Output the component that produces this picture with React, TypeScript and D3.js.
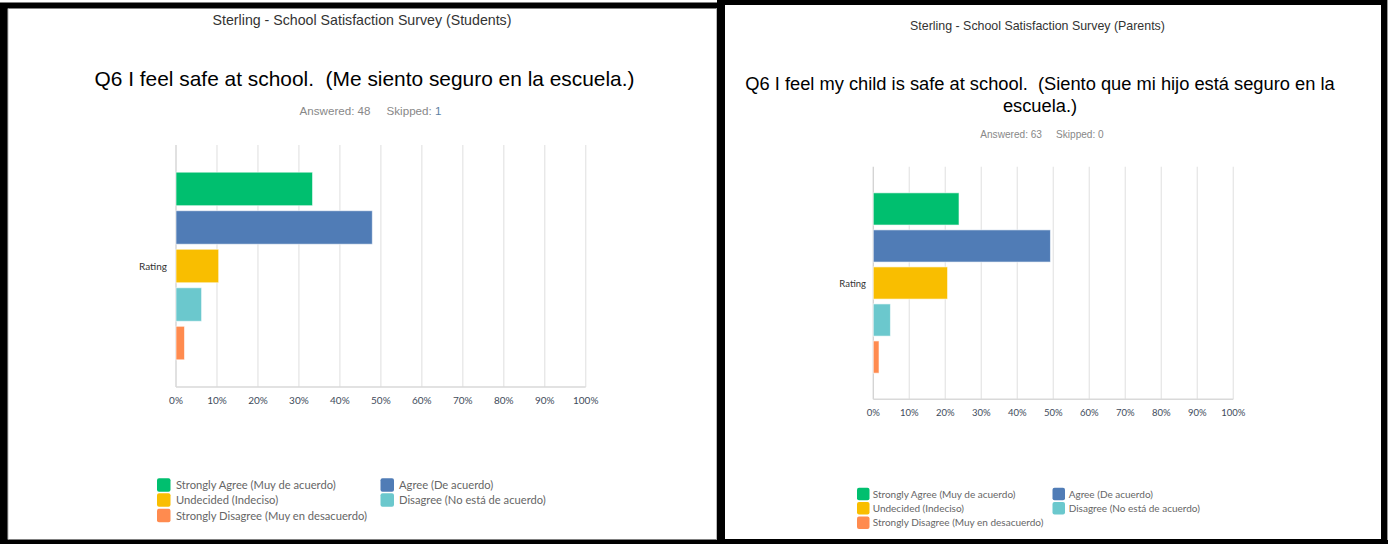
import React from "react";
import * as d3 from "d3";

// ---------- data ----------
const categories = ["Rating"];
const seriesNames = [
  "Strongly Agree (Muy de acuerdo)",
  "Agree (De acuerdo)",
  "Undecided (Indeciso)",
  "Disagree (No está de acuerdo)",
  "Strongly Disagree (Muy en desacuerdo)",
];
const seriesColors = ["#00BF6F", "#507CB6", "#F9BE00", "#6BC8CD", "#FF8B4F"];
const studentsValues = [33.33, 47.92, 10.42, 6.25, 2.08];
const parentsValues = [23.81, 49.21, 20.63, 4.76, 1.59];
const tickValues = [0, 10, 20, 30, 40, 50, 60, 70, 80, 90, 100];
const tickLabels = ["0%", "10%", "20%", "30%", "40%", "50%", "60%", "70%", "80%", "90%", "100%"];

const surveyTitles = [
  "Sterling - School Satisfaction Survey (Students)",
  "Sterling - School Satisfaction Survey (Parents)",
];
const questionLines = [
  ["Q6 I feel safe at school.  (Me siento seguro en la escuela.)"],
  ["Q6 I feel my child is safe at school.  (Siento que mi hijo está seguro en la", "escuela.)"],
];
const answeredTexts = ["Answered: 48", "Answered: 63"];
const skippedLabels = ["Skipped: ", "Skipped: "];
const skippedCounts = ["1", "0"];

const CHART_FONT = "Lato, 'Noto Sans', sans-serif";
const TITLE_FONT = "'Liberation Sans', Arial, sans-serif";

type Layout = {
  titleX: number; titleY: number; titleSize: number;
  qX: number; qY: number; qSize: number; qLineH: number;
  ansX: number; ansY: number; ansSize: number; countColor: string;
  px0: number; px1: number; py0: number; py1: number;
  tickY: number; tickSize: number;
  ratingX: number;
  legSq: number; legFont: number;
  col1Sq: number; col1Tx: number; col2Sq: number; col2Tx: number;
  rows: number[];
};

function Panel({ idx, values, L }: { idx: number; values: number[]; L: Layout }) {
  const x = d3.scaleLinear().domain([0, 100]).range([L.px0, L.px1]);
  const outer = d3.scaleBand().domain(categories).range([L.py0, L.py1]).padding(0.1126);
  const inner = d3
    .scaleBand()
    .domain(seriesNames)
    .range([0, outer.bandwidth()])
    .paddingInner(0.13)
    .paddingOuter(0.07);
  const cat = categories[0];
  const y0 = outer(cat) as number;
  const legendPos = [
    [L.col1Sq, L.col1Tx, L.rows[0]],
    [L.col2Sq, L.col2Tx, L.rows[0]],
    [L.col1Sq, L.col1Tx, L.rows[1]],
    [L.col2Sq, L.col2Tx, L.rows[1]],
    [L.col1Sq, L.col1Tx, L.rows[2]],
  ];
  return (
    <g>
      <text x={L.titleX} y={L.titleY} textAnchor="middle" fontFamily={TITLE_FONT} fontSize={L.titleSize} fill="#333">
        {surveyTitles[idx]}
      </text>
      {questionLines[idx].map((t, i) => (
        <text
          key={i}
          x={L.qX}
          y={L.qY + i * L.qLineH}
          textAnchor="middle"
          fontFamily={TITLE_FONT}
          fontSize={L.qSize}
          fill="#000"
          style={{ whiteSpace: "pre" }}
        >
          {t}
        </text>
      ))}
      <text x={L.ansX} y={L.ansY} textAnchor="middle" fontFamily={TITLE_FONT} fontSize={L.ansSize} fill="#888" style={{ whiteSpace: "pre" }}>
        {answeredTexts[idx] + "     " + skippedLabels[idx]}
        <tspan fill={L.countColor}>{skippedCounts[idx]}</tspan>
      </text>
      {/* gridlines */}
      {tickValues.map((v) => (
        <line key={v} x1={x(v)} x2={x(v)} y1={L.py0} y2={L.py1} stroke={v === 0 ? "#d4d4d4" : "#e8e8e8"} strokeWidth={1.4} />
      ))}
      <line x1={L.px0} x2={L.px1} y1={L.py1} y2={L.py1} stroke="#d9d9d9" strokeWidth={1.4} />
      {/* bars */}
      {seriesNames.map((s, i) => (
        <rect
          key={s}
          x={x(0)}
          y={y0 + (inner(s) as number)}
          width={x(values[i]) - x(0)}
          height={inner.bandwidth()}
          fill={seriesColors[i]}
          stroke="#ffffff"
          strokeOpacity={0.6}
          strokeWidth={1}
        />
      ))}
      <text x={L.ratingX} y={y0 + outer.bandwidth() / 2 + 3.5} textAnchor="end" fontFamily={CHART_FONT} fontSize={L.tickSize} fill="#333">
        {cat}
      </text>
      {tickValues.map((v, i) => (
        <text key={v} x={x(v)} y={L.tickY} textAnchor="middle" fontFamily={CHART_FONT} fontSize={L.tickSize} fill="#3e4b5b">
          {tickLabels[i]}
        </text>
      ))}
      {/* legend */}
      {seriesNames.map((s, i) => {
        const [sx, tx, cy] = legendPos[i];
        return (
          <g key={s}>
            <rect x={sx} y={cy - L.legSq / 2} width={L.legSq} height={L.legSq} rx={2} fill={seriesColors[i]} />
            <text x={tx} y={cy + L.legFont * 0.36} fontFamily={CHART_FONT} fontSize={L.legFont} fill="#666">
              {s}
            </text>
          </g>
        );
      })}
    </g>
  );
}

const leftLayout: Layout = {
  titleX: 362, titleY: 25, titleSize: 14.2,
  qX: 364.5, qY: 86, qSize: 20.9, qLineH: 22,
  ansX: 370.5, ansY: 115, ansSize: 11.6, countColor: "#5d7fa3",
  px0: 176, px1: 585.7, py0: 145, py1: 387,
  tickY: 404, tickSize: 10,
  ratingX: 167,
  legSq: 13.5, legFont: 11.2,
  col1Sq: 157, col1Tx: 176, col2Sq: 380.5, col2Tx: 399,
  rows: [485, 500, 515.5],
};

const rightLayout: Layout = {
  titleX: 1037.5, titleY: 30, titleSize: 12.4,
  qX: 1040, qY: 89.5, qSize: 18.3, qLineH: 22,
  ansX: 1042, ansY: 138, ansSize: 10.1, countColor: "#888",
  px0: 873.3, px1: 1233.3, py0: 166.7, py1: 399.3,
  tickY: 415.5, tickSize: 9.5,
  ratingX: 866,
  legSq: 12.5, legFont: 10,
  col1Sq: 857, col1Tx: 872.7, col2Sq: 1052.5, col2Tx: 1068.7,
  rows: [494, 508.3, 522.7],
};

export default function App() {
  const W = 1395;
  const H = 544;
  return (
    <svg width={W} height={H} style={{ position: "absolute", left: 0, top: 0, display: "block" }}>
      <rect x={0} y={0} width={W} height={H} fill="#ffffff" />
      {/* left frame */}
      <rect x={0} y={2.5} width={725} height={H - 2.5} fill="#000" />
      <rect x={8} y={8.5} width={709} height={531} fill="#fff" />
      <line x1={716.5} x2={716.5} y1={8.5} y2={539.5} stroke="#bbb" />
      <line x1={8} x2={8} y1={8.5} y2={539.5} stroke="#bbb" />
      {/* right frame */}
      <rect x={717} y={0} width={670} height={H} fill="#000" />
      <rect x={725} y={5} width={656} height={534} fill="#fff" />
      <line x1={1387.5} x2={1387.5} y1={0} y2={H} stroke="#999" />
      <rect x={0} y={540} width={1388} height={4} fill="#000" />
      <Panel idx={0} values={studentsValues} L={leftLayout} />
      <Panel idx={1} values={parentsValues} L={rightLayout} />
    </svg>
  );
}
